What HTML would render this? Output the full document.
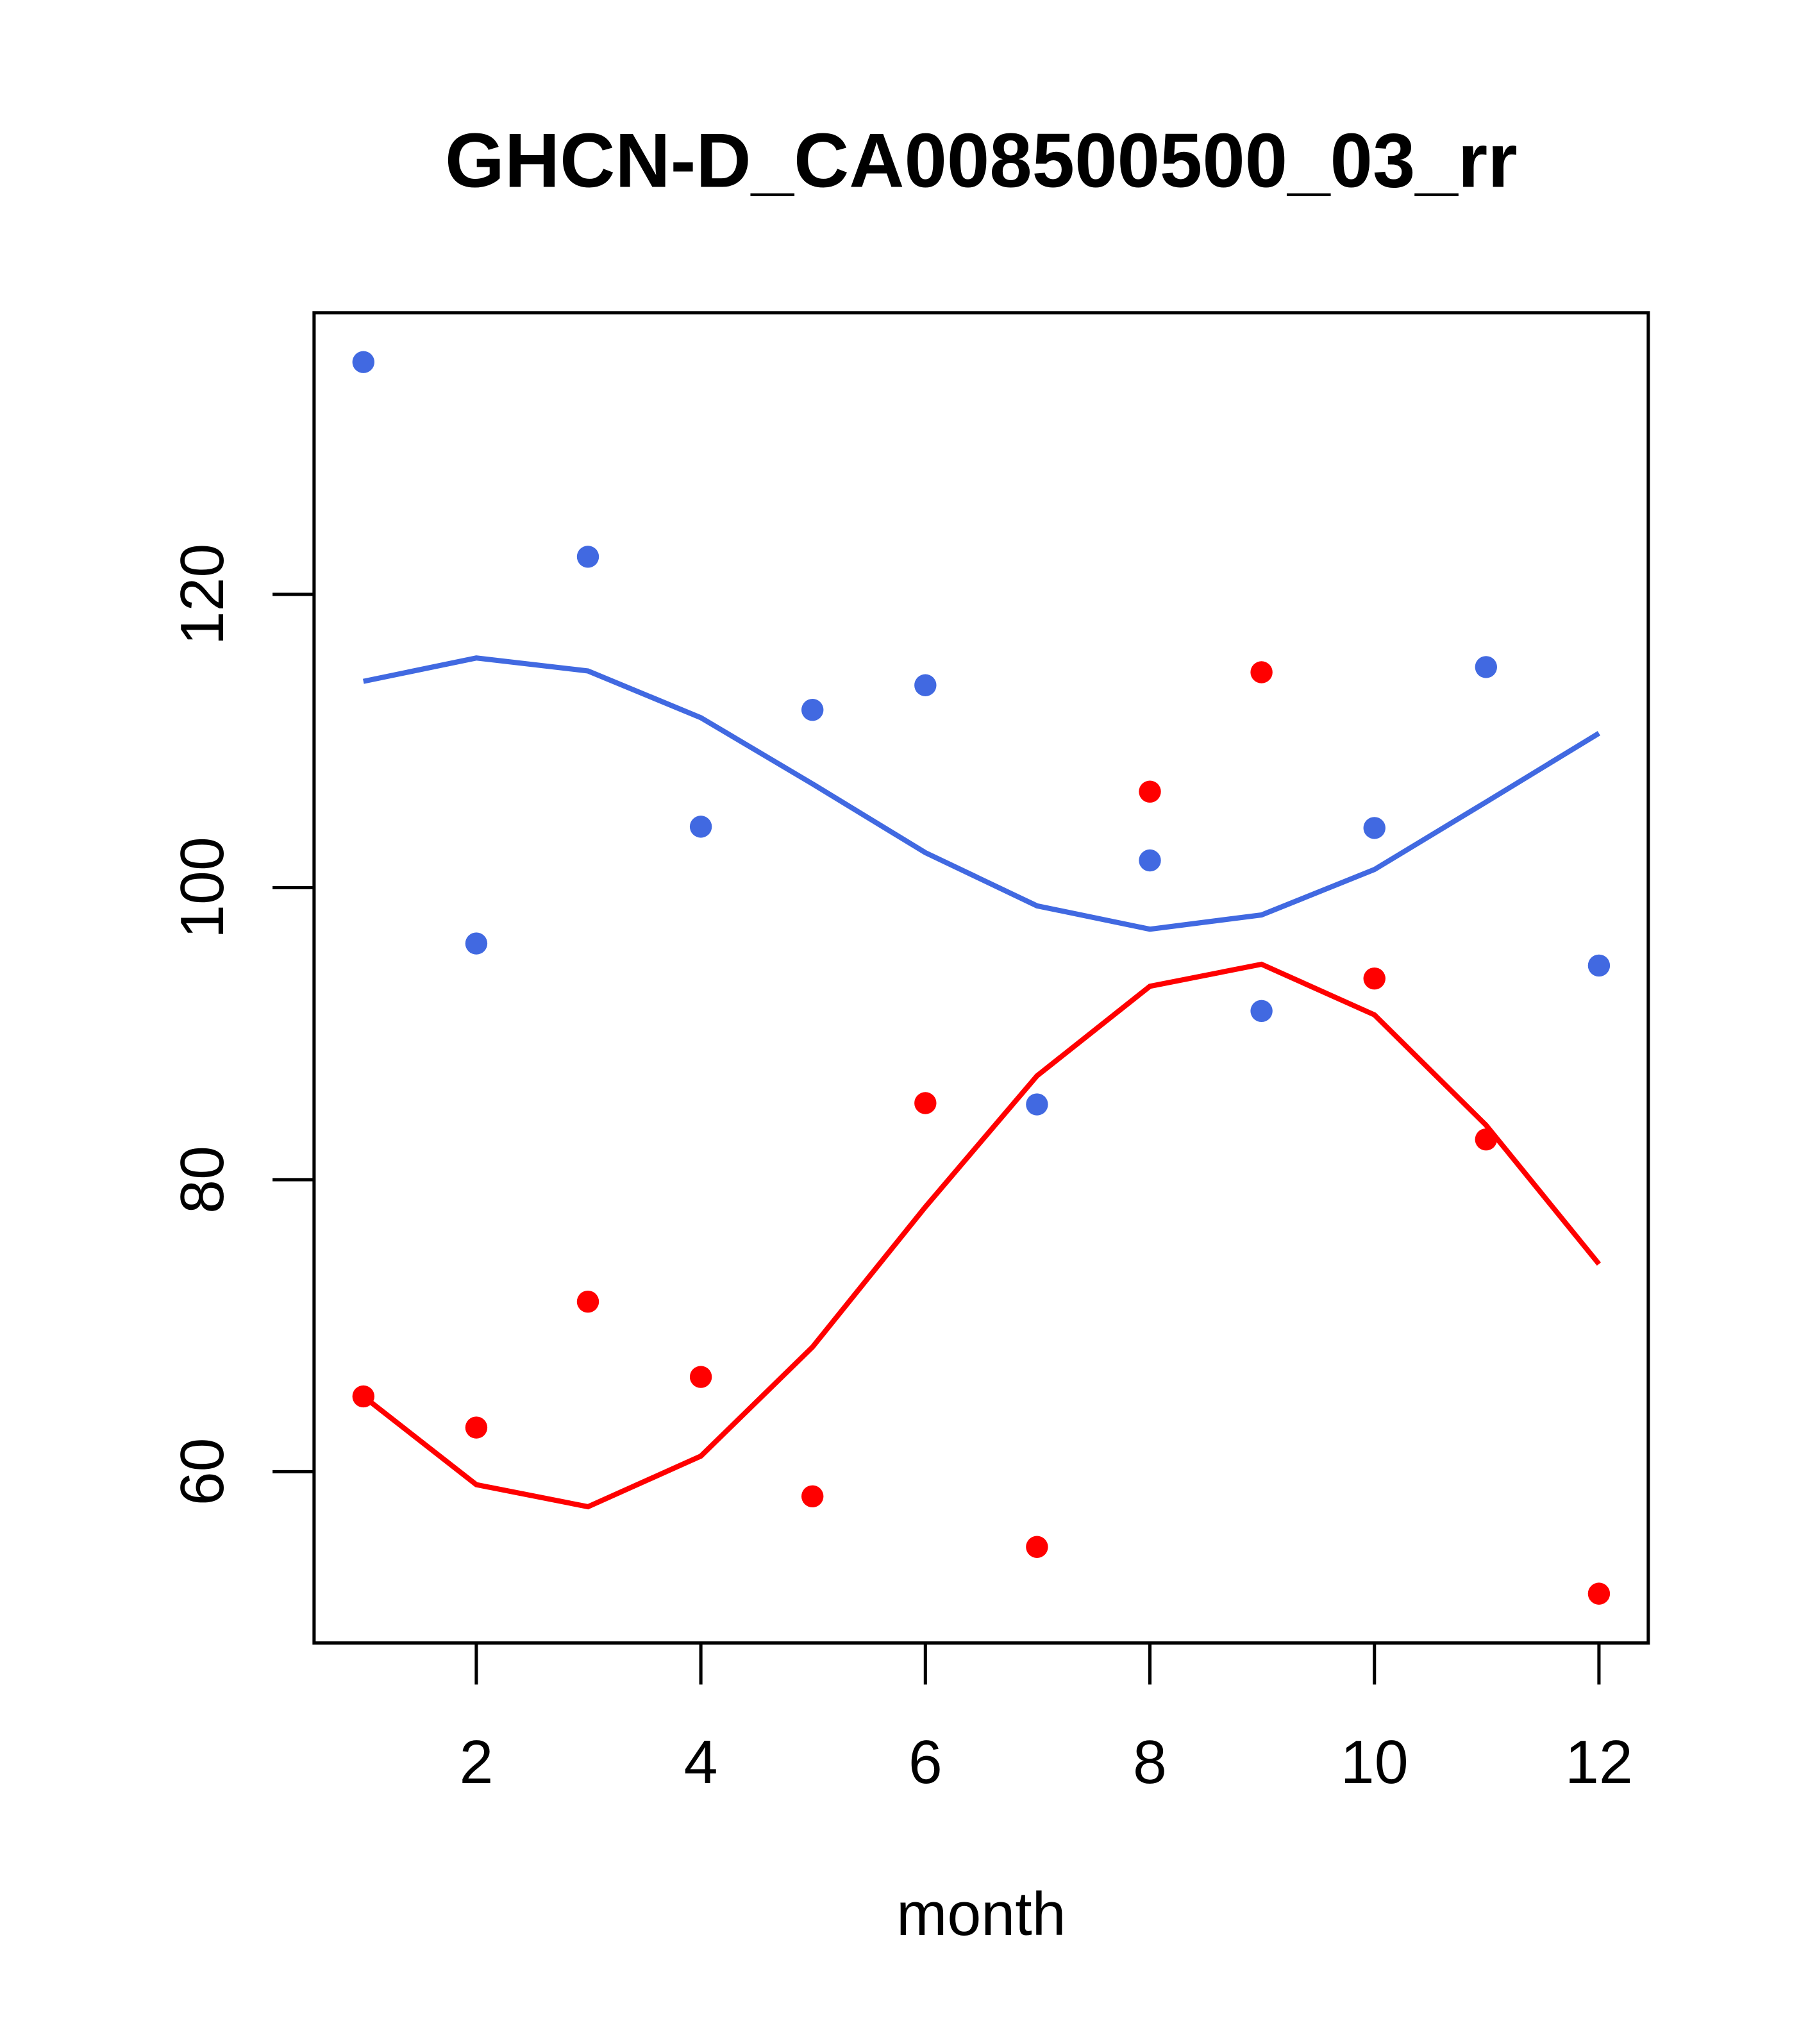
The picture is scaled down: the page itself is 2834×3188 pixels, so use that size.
<!DOCTYPE html>
<html><head><style>html,body{margin:0;padding:0;background:#fff}svg{display:block}</style></head>
<body>
<svg width="2834" height="3188" viewBox="0 0 1400 1575" preserveAspectRatio="none" xmlns="http://www.w3.org/2000/svg" font-family="Liberation Sans, sans-serif">
<rect width="1400" height="1575" fill="#fff"/>
<text x="756" y="144" font-size="59" font-weight="bold" text-anchor="middle">GHCN-D_CA008500500_03_rr</text>
<rect x="242" y="241" width="1028" height="1025" fill="none" stroke="#000" stroke-width="2.5"/>
<g stroke="#000" stroke-width="2.5">
<line x1="367" y1="1266" x2="367" y2="1298"/><line x1="540" y1="1266" x2="540" y2="1298"/>
<line x1="713" y1="1266" x2="713" y2="1298"/><line x1="886" y1="1266" x2="886" y2="1298"/>
<line x1="1059" y1="1266" x2="1059" y2="1298"/><line x1="1232" y1="1266" x2="1232" y2="1298"/>
<line x1="242" y1="458" x2="210" y2="458"/><line x1="242" y1="684" x2="210" y2="684"/>
<line x1="242" y1="909" x2="210" y2="909"/><line x1="242" y1="1134" x2="210" y2="1134"/>
</g>
<g font-size="47" text-anchor="middle">
<text x="367" y="1374">2</text><text x="540" y="1374">4</text><text x="713" y="1374">6</text>
<text x="886" y="1374">8</text><text x="1059" y="1374">10</text><text x="1232" y="1374">12</text>
<text x="756" y="1491">month</text>
<text transform="translate(172,458) rotate(-90)">120</text>
<text transform="translate(172,684) rotate(-90)">100</text>
<text transform="translate(172,909) rotate(-90)">80</text>
<text transform="translate(172,1134) rotate(-90)">60</text>
</g>
<polyline fill="none" stroke="#4169E1" stroke-width="4" points="280,525 367,507 453,517 540,553 626,604 713,657 799,698 886,716 972,705 1059,670 1145,618 1232,565"/>
<polyline fill="none" stroke="#FF0000" stroke-width="4" points="280,1076 367,1144 453,1161 540,1122 626,1038 713,930 799,829 886,760 972,743 1059,782 1145,867 1232,974"/>
<g fill="#4169E1">
<circle cx="280" cy="279" r="8.5"/><circle cx="367" cy="727" r="8.5"/><circle cx="453" cy="429" r="8.5"/>
<circle cx="540" cy="637" r="8.5"/><circle cx="626" cy="547" r="8.5"/><circle cx="713" cy="528" r="8.5"/>
<circle cx="799" cy="851" r="8.5"/><circle cx="886" cy="663" r="8.5"/><circle cx="972" cy="779" r="8.5"/>
<circle cx="1059" cy="638" r="8.5"/><circle cx="1145" cy="514" r="8.5"/><circle cx="1232" cy="744" r="8.5"/>
</g>
<g fill="#FF0000">
<circle cx="280" cy="1076" r="8.5"/><circle cx="367" cy="1100" r="8.5"/><circle cx="453" cy="1003" r="8.5"/>
<circle cx="540" cy="1061" r="8.5"/><circle cx="626" cy="1153" r="8.5"/><circle cx="713" cy="850" r="8.5"/>
<circle cx="799" cy="1192" r="8.5"/><circle cx="886" cy="610" r="8.5"/><circle cx="972" cy="518" r="8.5"/>
<circle cx="1059" cy="754" r="8.5"/><circle cx="1145" cy="878" r="8.5"/><circle cx="1232" cy="1228" r="8.5"/>
</g>
</svg>
</body></html>
